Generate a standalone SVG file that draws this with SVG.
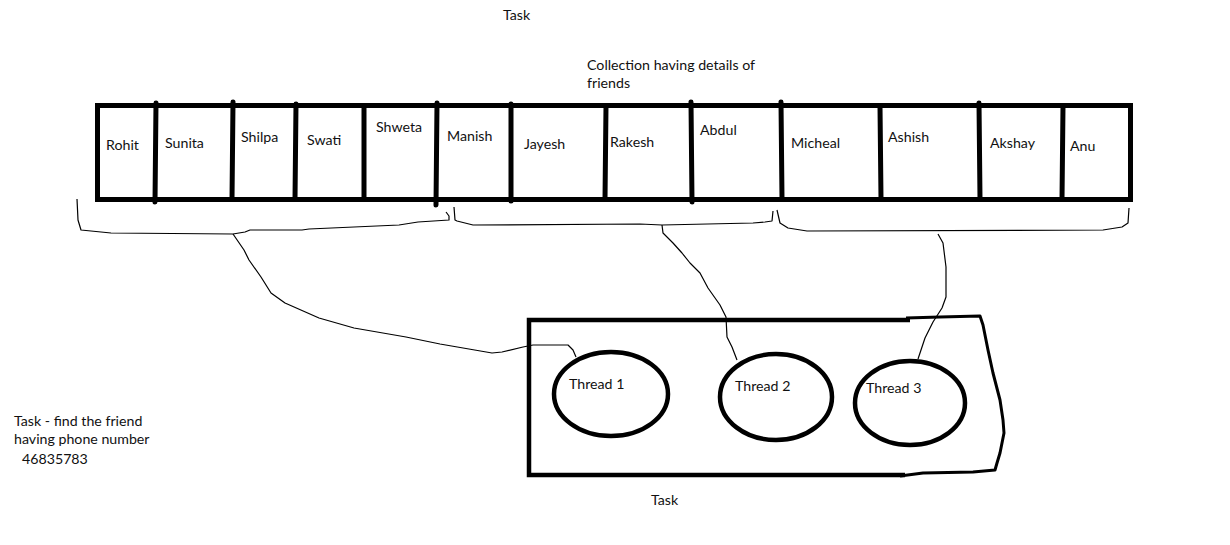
<svg xmlns="http://www.w3.org/2000/svg" width="1230" height="545" viewBox="0 0 1230 545">
<style>
text{font-family:Lato,"Noto Sans","Liberation Sans",sans-serif;font-size:14.2px;fill:#111}
.thick{fill:none;stroke:#000;stroke-width:5}
.div{stroke:#000;stroke-width:5;stroke-linecap:round}
.thin{fill:none;stroke:#000;stroke-width:1.2;stroke-linejoin:round}
.ell{fill:none;stroke:#000;stroke-width:4.5}
.edge{fill:none;stroke:#000;stroke-width:3;stroke-linejoin:round}
</style>
<rect width="1230" height="545" fill="#fff"/>
<g id="title-top"><text x="503" y="20">Task</text></g>
<g id="collection-label"><text x="587" y="70">Collection having details of</text><text x="587" y="88">friends</text></g>
<g id="collection">
<rect class="thick" x="97.5" y="105.5" width="1033" height="94"/>
<line class="div" x1="156" y1="103" x2="155" y2="202"/>
<line class="div" x1="233" y1="102" x2="232" y2="199"/>
<line class="div" x1="296" y1="104" x2="295" y2="199"/>
<line class="div" x1="364" y1="106" x2="364" y2="199"/>
<line class="div" x1="437" y1="103" x2="436" y2="205"/>
<line class="div" x1="511" y1="104" x2="511" y2="201"/>
<line class="div" x1="606" y1="106" x2="605" y2="199"/>
<line class="div" x1="691" y1="102" x2="692" y2="202"/>
<line class="div" x1="781" y1="102" x2="782" y2="199"/>
<line class="div" x1="880" y1="106" x2="881" y2="199"/>
<line class="div" x1="979" y1="103" x2="980" y2="199"/>
<line class="div" x1="1063" y1="106" x2="1062" y2="199"/>
</g>
<g id="cell-rohit"><text x="106" y="150">Rohit</text></g>
<g id="cell-sunita"><text x="165" y="148">Sunita</text></g>
<g id="cell-shilpa"><text x="241" y="142">Shilpa</text></g>
<g id="cell-swati"><text x="307" y="145">Swati</text></g>
<g id="cell-shweta"><text x="376" y="132">Shweta</text></g>
<g id="cell-manish"><text x="447" y="141">Manish</text></g>
<g id="cell-jayesh"><text x="524" y="149">Jayesh</text></g>
<g id="cell-rakesh"><text x="610" y="147">Rakesh</text></g>
<g id="cell-abdul"><text x="700" y="135">Abdul</text></g>
<g id="cell-micheal"><text x="791" y="148">Micheal</text></g>
<g id="cell-ashish"><text x="888" y="142">Ashish</text></g>
<g id="cell-akshay"><text x="990" y="148">Akshay</text></g>
<g id="cell-anu"><text x="1070" y="151">Anu</text></g>
<g id="task-box">
<path class="thick" d="M910,320 H529 V475 H905" style="stroke-width:4.5"/>
<path class="edge" d="M906,318 L940,317 L980,316 L983,325 L988,350 L993,373 L1000,400 L1003,420 L1004,433 L1000,453 L997,463 L995,470 L973,472 L923,473 L900,476"/>
<text x="651" y="505">Task</text>
</g>
<g id="thread-1"><ellipse class="ell" cx="611" cy="394" rx="57" ry="42"/><text x="569" y="389">Thread 1</text></g>
<g id="thread-2"><ellipse class="ell" cx="776" cy="397" rx="56" ry="43"/><text x="735" y="391">Thread 2</text></g>
<g id="thread-3"><ellipse class="ell" cx="910" cy="403" rx="55" ry="42"/><text x="866" y="393">Thread 3</text></g>
<g id="task-note"><text x="14" y="426">Task - find the friend</text><text x="14" y="444">having phone number</text><text x="22" y="464">46835783</text></g>
<g id="connectors">
<polyline class="thin" points="77,199 78,220 81,230 111,233 233,234 245,232 250,230 302,230 309,229 399,225 418,222 449,220 449,216 446,212"/>
<polyline class="thin" points="454,207 455,220 457,221 473,225 640,224 662,225 753,223 765,222 772,221 773,211"/>
<polyline class="thin" points="777,210 780,223 788,228 807,231 1103,230 1122,227 1128,223 1129,208"/>
<polyline class="thin" points="233,234 244,250 249,260 261,277 271,293 285,303 319,318 354,328 406,337 440,344 492,353 502,352 523,347 533,345 568,345 573,350 576,357"/>
<polyline class="thin" points="662,225 663,233 673,243 682,253 690,263 700,273 708,288 720,305 726,317 727,337 732,347 737,360"/>
<polyline class="thin" points="938,234 943,243 946,267 946,297 942,308 933,322 925,338 918,359"/>
</g>
</svg>
